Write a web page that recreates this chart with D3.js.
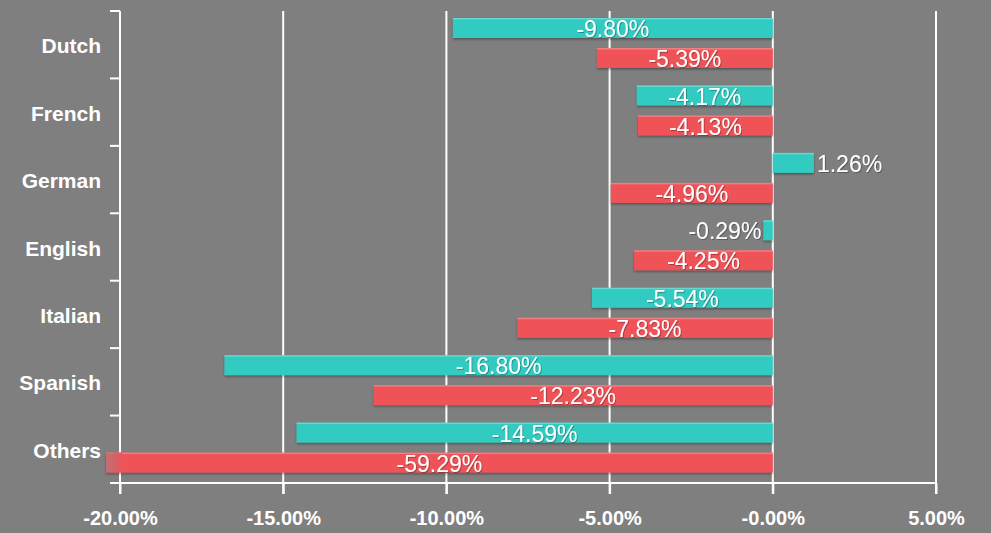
<!DOCTYPE html>
<html>
<head>
<meta charset="utf-8">
<script src="https://cdn.jsdelivr.net/npm/d3@7"></script>
<style>
  html, body { margin: 0; padding: 0; background: #7f7f7f; }
  svg { display: block; }
  text { font-family: "Liberation Sans", Arial, sans-serif; }
</style>
</head>
<body>
<svg></svg>
<script>
// data
let languages = ['Dutch', 'French', 'German', 'English', 'Italian', 'Spanish', 'Others'];
let seriesA = [-9.80, -4.17, 1.26, -0.29, -5.54, -16.80, -14.59];
let seriesB = [-5.39, -4.13, -4.96, -4.25, -7.83, -12.23, -59.29];
let xTicks = [-20, -15, -10, -5, 0, 5];

let colors = { a: '#33cbc1', b: '#ef5358' };

// configuration of svg/plot area
let config = { 'svg': {}, 'margin': {}, 'plot': {} };
config.svg.width = 991;
config.svg.height = 533;

config.margin.top = 11;
config.margin.left = 120;

config.plot.width = 816;
config.plot.height = 472;

let svg = d3.select('body').select('svg');
svg.attr('width', config.svg.width);
svg.attr('height', config.svg.height);

svg.append('rect')
  .attr('width', config.svg.width)
  .attr('height', config.svg.height)
  .attr('fill', '#7f7f7f');

let defs = svg.append('defs');
let shadow = defs.append('filter').attr('id', 'shadow')
  .attr('x', '-10%').attr('y', '-30%').attr('width', '120%').attr('height', '180%');
shadow.append('feDropShadow')
  .attr('dx', 0).attr('dy', 1.5).attr('stdDeviation', 0.8)
  .attr('flood-color', '#000').attr('flood-opacity', 0.35);

let tshadow = defs.append('filter').attr('id', 'tshadow');
tshadow.append('feDropShadow')
  .attr('dx', 1).attr('dy', 1).attr('stdDeviation', 0.6)
  .attr('flood-color', '#000').attr('flood-opacity', 0.3);

let fade = defs.append('linearGradient').attr('id', 'fade');
fade.append('stop').attr('offset', '0%').attr('stop-color', '#a08080').attr('stop-opacity', 0.6);
fade.append('stop').attr('offset', '100%').attr('stop-color', colors.b).attr('stop-opacity', 0.9);

let plot = svg.append('g')
  .attr('transform', `translate(${config.margin.left},${config.margin.top})`);

// scales
let x = d3.scaleLinear().domain([-20, 5]).range([0, config.plot.width]);
let y = d3.scaleBand().domain(languages).range([0, config.plot.height]);

// gridlines
plot.append('g').selectAll('line')
  .data(xTicks)
  .join('line')
  .attr('x1', d => x(d)).attr('x2', d => x(d))
  .attr('y1', 0).attr('y2', config.plot.height + 11)
  .attr('stroke', '#ffffff').attr('stroke-width', 2);

// x axis
let xAxis = d3.axisBottom(x)
  .tickValues(xTicks)
  .tickSize(11)
  .tickFormat(d => (d === 0 ? '-0.00' : d3.format('.2f')(d).replace('−', '-')) + '%');

let gx = plot.append('g')
  .attr('transform', `translate(0,${config.plot.height})`)
  .call(xAxis);
gx.select('.domain').remove();
gx.append('line')
  .attr('x1', -10).attr('x2', x(5))
  .attr('y1', 0).attr('y2', 0)
  .attr('stroke', '#fff').attr('stroke-width', 2);
gx.selectAll('.tick line').attr('stroke', '#fff').attr('stroke-width', 2);
gx.selectAll('.tick text')
  .attr('fill', '#fff')
  .attr('y', 28)
  .attr('font-size', 20)
  .attr('font-weight', 'bold')
  .attr('dy', '0.71em');

// y axis (band boundaries)
let bounds = d3.range(languages.length + 1).map(i => i * y.step());
let gy = plot.append('g');
gy.append('line')
  .attr('x1', 0).attr('x2', 0).attr('y1', 0).attr('y2', config.plot.height)
  .attr('stroke', '#fff').attr('stroke-width', 2);
gy.selectAll('line.tk')
  .data(bounds)
  .join('line')
  .attr('class', 'tk')
  .attr('x1', -10).attr('x2', 0)
  .attr('y1', d => d).attr('y2', d => d)
  .attr('stroke', '#fff').attr('stroke-width', 2);
gy.selectAll('text')
  .data(languages)
  .join('text')
  .attr('x', -19)
  .attr('y', d => y(d) + y.bandwidth() / 2 + 3)
  .attr('text-anchor', 'end')
  .attr('dominant-baseline', 'middle')
  .attr('fill', '#fff')
  .attr('font-size', 21)
  .attr('font-weight', 'bold')
  .text(d => d);

// bars
let barH = 20;
let offsets = { a: 7, b: 37 };
let clipLeft = x(-20) - 14;

let rows = [];
languages.forEach((lang, i) => {
  rows.push({ lang: lang, key: 'a', value: seriesA[i] });
  rows.push({ lang: lang, key: 'b', value: seriesB[i] });
});

let bars = plot.append('g');
rows.forEach(r => {
  let x0 = Math.max(x(Math.min(0, r.value)), clipLeft);
  let x1 = x(Math.max(0, r.value));
  let yy = y(r.lang) + offsets[r.key];
  let g = bars.append('g');
  g.append('rect')
    .attr('x', x0).attr('y', yy)
    .attr('width', x1 - x0).attr('height', barH)
    .attr('fill', colors[r.key])
    .attr('filter', 'url(#shadow)');
  g.append('rect')
    .attr('x', x0).attr('y', yy)
    .attr('width', x1 - x0).attr('height', 1.5)
    .attr('fill', '#fff').attr('opacity', 0.25);
  if (x(r.value) < clipLeft) {
    // bar runs past the axis minimum: faded tip
    g.append('rect')
      .attr('x', clipLeft).attr('y', yy)
      .attr('width', x(-20) - clipLeft + 2).attr('height', barH)
      .attr('fill', 'url(#fade)');
  }

  let label = d3.format('.2f')(r.value).replace('−', '-') + '%';
  let width = x1 - x0;
  let tx, anchor;
  if (width > 70) {
    tx = (x0 + x1) / 2; anchor = 'middle';
  } else if (r.value >= 0) {
    tx = x1 + 3; anchor = 'start';
  } else {
    tx = x0 - 2; anchor = 'end';
  }
  g.append('text')
    .attr('x', tx)
    .attr('y', yy + barH / 2 + 3)
    .attr('text-anchor', anchor)
    .attr('dominant-baseline', 'middle')
    .attr('fill', '#fff')
    .attr('font-size', 23)
    .attr('filter', 'url(#tshadow)')
    .text(label);
});
</script>
</body>
</html>
